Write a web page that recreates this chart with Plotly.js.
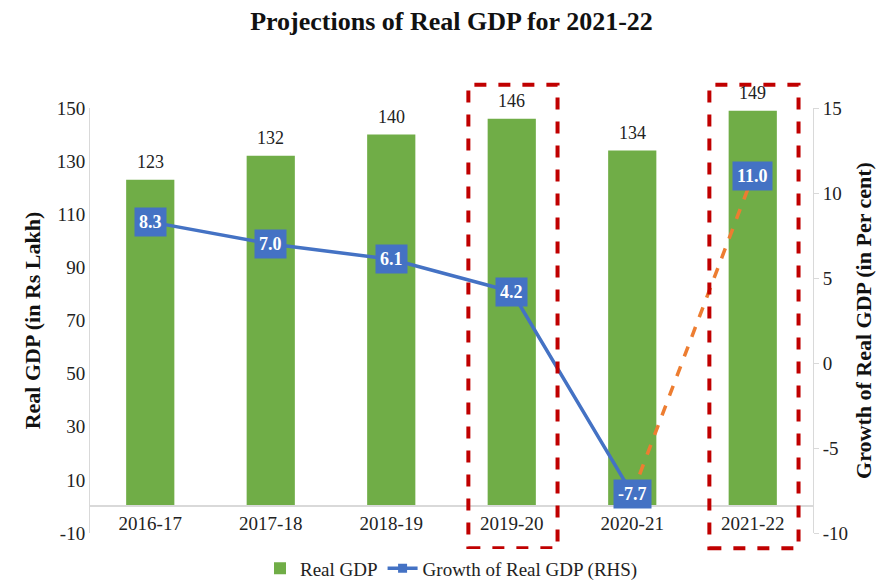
<!DOCTYPE html>
<html>
<head>
<meta charset="utf-8">
<script src="https://cdn.plot.ly/plotly-3.0.1.min.js"></script>
<style>html,body{margin:0;padding:0;background:#fff;}#chart{width:892px;height:583px;}</style>
</head>
<body>
<div id="chart"></div>
<script>
const years = ["2016-17", "2017-18", "2018-19", "2019-20", "2020-21", "2021-22"];
const realGDP = [123, 132, 140, 146, 134, 149];
const growth = [8.3, 7.0, 6.1, 4.2, -7.7, 11.0];
const growthLabels = ["8.3", "7.0", "6.1", "4.2", "-7.7", "11.0"];
const highlighted = ["2019-20", "2021-22"];
const leftTicks = [-10, 10, 30, 50, 70, 90, 110, 130, 150];
const rightTicks = [-10, -5, 0, 5, 10, 15];

const serif = "Liberation Serif, Times New Roman, serif";
const yRange = [-10, 150];
const y2Range = [-10, 15];
const blue = "#4472C4";

const actualX = years.slice(0, 5);
const actualY = growth.slice(0, 5);
const projX = years.slice(4);
const projY = growth.slice(4);

const traces = [
  {
    type: "bar", name: "Real GDP", x: years, y: realGDP,
    marker: {color: "#70AD47"}, width: 0.4,
    hoverinfo: "x+y"
  },
  {
    type: "scatter", mode: "lines", x: projX, y: projY, yaxis: "y2",
    line: {color: "#ED7D31", width: 3.5, dash: "dash"}, showlegend: false, hoverinfo: "skip"
  },
  {
    type: "scatter", mode: "lines+markers", name: "Growth of Real GDP (RHS)",
    x: actualX, y: actualY, yaxis: "y2",
    line: {color: blue, width: 3.5},
    marker: {symbol: "square", size: 9, color: blue}
  }
];

const barLabels = years.map((yr, i) => ({
  x: yr, y: realGDP[i], xref: "x", yref: "y",
  text: String(realGDP[i]), showarrow: false, yanchor: "bottom", yshift: 6,
  font: {family: serif, size: 18, color: "#222"}
}));

const growthBoxes = years.map((yr, i) => ({
  x: yr, y: growth[i], xref: "x", yref: "y2",
  text: "<b>" + growthLabels[i] + "</b>", showarrow: false,
  font: {family: serif, size: 18, color: "#fff"},
  bgcolor: blue, borderpad: 4
}));

const shapes = highlighted.map(yr => {
  const i = years.indexOf(yr);
  return {
    type: "rect", xref: "x", yref: "paper",
    x0: i - 0.36, x1: i + 0.38, y0: -0.036, y1: 1.055,
    line: {color: "#C00000", width: 4, dash: "dash"}
  };
});

const xPos = (0 - yRange[0]) / (yRange[1] - yRange[0]);

const tickFont = {family: serif, size: 19, color: "#222"};

const layout = {
  width: 892, height: 583,
  margin: {l: 90, r: 79, t: 108, b: 50, autoexpand: false},
  paper_bgcolor: "#fff", plot_bgcolor: "#fff",
  title: {text: "<b>Projections of Real GDP for 2021-22</b>", x: 0.5, xanchor: "center",
          xref: "paper", y: 0.964, yanchor: "middle",
          font: {family: serif, size: 26, color: "#111"}},
  font: {family: serif, color: "#222"},
  xaxis: {
    type: "category", anchor: "free", position: xPos, showline: true, linecolor: "#d9d9d9", linewidth: 1.5,
    ticks: "", tickfont: tickFont, showgrid: false, zeroline: false
  },
  yaxis: {
    range: yRange, tickmode: "array", tickvals: leftTicks, ticktext: leftTicks.map(String),
    showgrid: false, zeroline: false,
    showline: true, linecolor: "#d9d9d9", ticks: "", ticklen: 0,
    tickfont: tickFont,
    title: {text: "<b>Real GDP (in Rs Lakh)</b>", font: {family: serif, size: 22, color: "#111"}, standoff: 10}
  },
  yaxis2: {
    range: y2Range, tickmode: "array", tickvals: rightTicks, ticktext: rightTicks.map(String),
    overlaying: "y", side: "right", showgrid: false, zeroline: false,
    showline: true, linecolor: "#d9d9d9", ticks: "outside", tickcolor: "#d9d9d9", ticklen: 5,
    tickfont: tickFont,
    title: {text: "<b>Growth of Real GDP (in Per cent)</b>", font: {family: serif, size: 22, color: "#111"}, standoff: 8}
  },
  legend: {orientation: "h", x: 0.5, xanchor: "center", y: -0.083, yanchor: "middle",
           font: {family: serif, size: 19, color: "#222"}, traceorder: "normal"},
  bargap: 0.6,
  annotations: barLabels.concat(growthBoxes),
  shapes: shapes
};

Plotly.newPlot("chart", traces, layout, {displayModeBar: false});
</script>
</body>
</html>
